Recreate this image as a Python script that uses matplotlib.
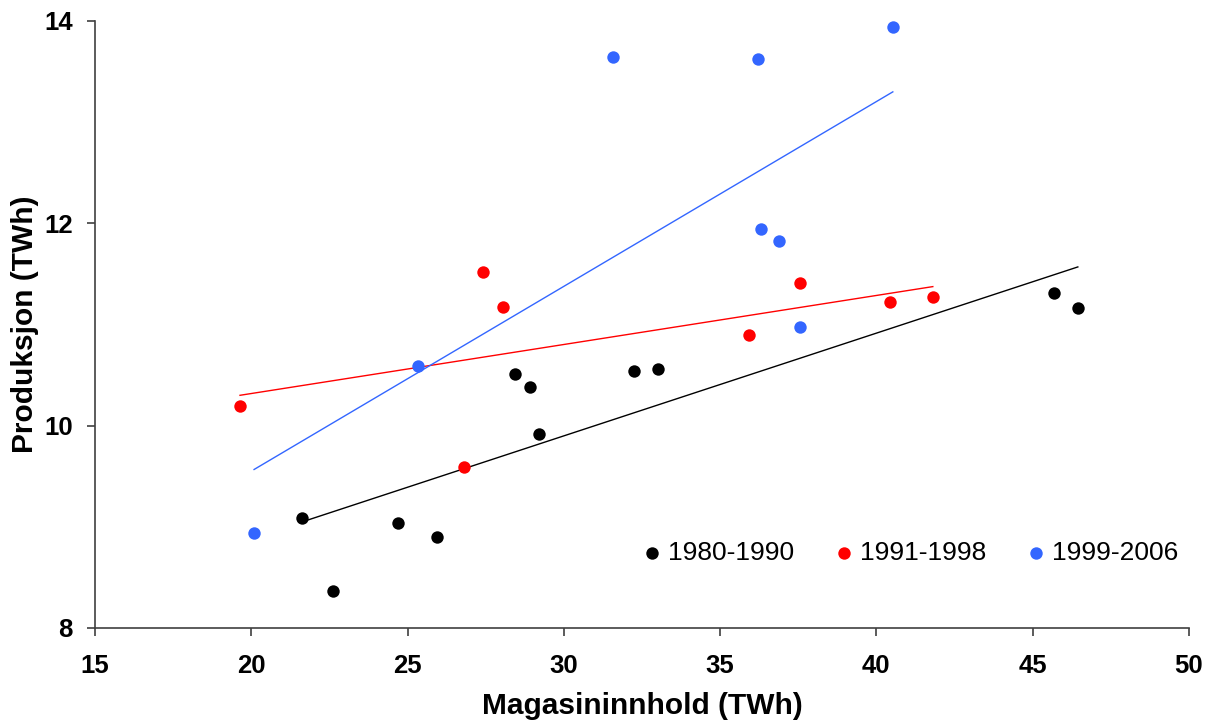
import numpy as np
import matplotlib
matplotlib.use("Agg")
import matplotlib.pyplot as plt

plt.rcParams['font.family'] = ['Liberation Sans', 'DejaVu Sans']

# Magasininnhold (TWh) vs produksjon (TWh) per periode
x_8090 = [21.62, 22.61, 24.69, 25.94, 28.44, 28.92, 29.20, 32.24, 33.01, 45.68, 46.45]
y_8090 = [9.09, 8.37, 9.04, 8.90, 10.51, 10.38, 9.92, 10.54, 10.56, 11.31, 11.16]

x_9198 = [19.64, 26.80, 27.41, 28.05, 35.92, 37.55, 40.43, 41.81]
y_9198 = [10.19, 9.59, 11.52, 11.17, 10.90, 11.41, 11.22, 11.27]

x_9906 = [20.09, 25.33, 31.57, 36.21, 36.31, 36.88, 37.55, 40.53]
y_9906 = [8.94, 10.59, 13.64, 13.62, 11.94, 11.83, 10.98, 13.94]

labels = ['1980-1990', '1991-1998', '1999-2006']
colors = ['#000000', '#FF0000', '#3366FF']

x_ticks = [15, 20, 25, 30, 35, 40, 45, 50]
y_ticks = [8, 10, 12, 14]

fig = plt.figure(figsize=(12.18, 7.23), dpi=100)
ax = fig.add_axes([0.078, 0.1314, 0.898, 0.8396])

series = [(x_8090, y_8090), (x_9198, y_9198), (x_9906, y_9906)]
for (xs, ys), lab, col in zip(series, labels, colors):
    xs = np.asarray(xs)
    ys = np.asarray(ys)
    ax.scatter(xs, ys, s=80, color=col, label=lab, zorder=3, linewidths=0)
    # linear trend over the range of each period
    k, m = np.polyfit(xs, ys, 1)
    xl = np.array([xs.min(), xs.max()])
    ax.plot(xl, k * xl + m, color=col, lw=1.0, zorder=2)

ax.set_xlim(15, 50)
ax.set_ylim(8, 14)
ax.set_xticks(x_ticks)
ax.set_yticks(y_ticks)
ax.spines['top'].set_visible(False)
ax.spines['right'].set_visible(False)
for sp in ('left', 'bottom'):
    ax.spines[sp].set_color('#404040')
    ax.spines[sp].set_linewidth(1.2)
ax.tick_params(axis='both', direction='out', length=6, width=1.2, color='#404040',
               labelsize=18.5)
ax.tick_params(axis='x', pad=13)
ax.tick_params(axis='y', pad=10)
for t in ax.get_xticklabels() + ax.get_yticklabels():
    t.set_fontweight('bold')

ax.set_xlabel('Magasininnhold (TWh)', fontsize=21.5, fontweight='bold', labelpad=10)
ax.set_ylabel('Produksjon (TWh)', fontsize=21.5, fontweight='bold', labelpad=4)

ax.legend(loc='center right', bbox_to_anchor=(0.99, 0.1236), ncol=3, frameon=False,
          fontsize=19, handlelength=0.6, handletextpad=0.3, columnspacing=1.59,
          markerscale=1.0, borderaxespad=0.0, borderpad=0.0)

fig.savefig('out.png', dpi=100)
